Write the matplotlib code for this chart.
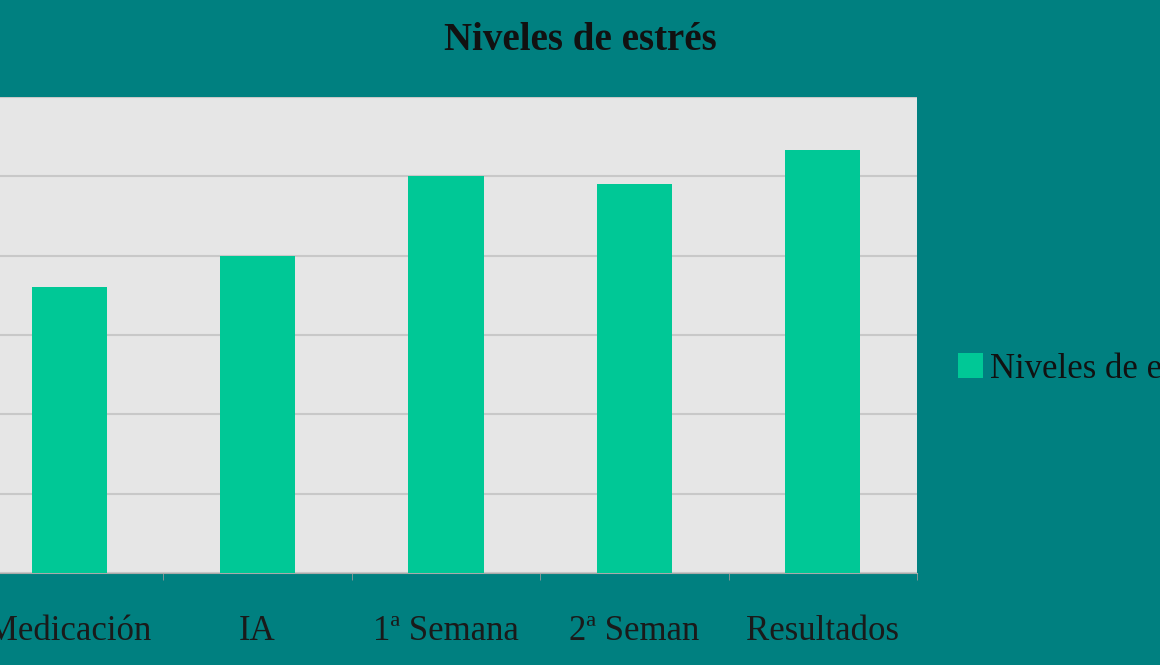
import matplotlib
matplotlib.use("Agg")
import matplotlib.pyplot as plt

categories = ["Medicación", "IA", "1ª Semana", "2ª Seman", "Resultados"]
values = [3.6, 4.0, 5.0, 4.9, 5.33]

plt.rcParams['font.family'] = ['Liberation Serif', 'DejaVu Serif']
fig = plt.figure(figsize=(11.6, 6.65), dpi=100)
fig.patch.set_facecolor('#008080')
ax = fig.add_axes([-25/1160, 1-573/665, 942/1160, (573-97)/665])
ax.set_facecolor('#e6e6e6')
x = list(range(len(categories)))
ax.bar(x, values, width=0.4, color='#00c896', zorder=3, label='Niveles de estrés')
ax.set_xlim(-0.5, len(categories)-0.5)
ax.set_ylim(0, 6)
ax.set_yticks([0, 1, 2, 3, 4, 5, 6])
ax.yaxis.grid(True, color='#c8c8c8', linewidth=1.5, zorder=0)
ax.tick_params(axis='y', length=0, labelleft=False)
ax.set_xticks(x)
ax.set_xticklabels(categories, fontsize=25, color='#1a1a1a')
ax.set_xticks([i+0.5 for i in x], minor=True)
ax.tick_params(axis='x', which='major', length=0, pad=30)
ax.tick_params(axis='x', which='minor', length=5, color='#999999')
for s in ['top', 'right', 'left']:
    ax.spines[s].set_visible(False)
ax.spines['bottom'].set_color('#aaaaaa')
fig.text(580/1160, 1-40/665, 'Niveles de estrés', ha='center', va='center',
         fontsize=28, fontweight='bold', color='#111111')
fig.legend(loc='center left', bbox_to_anchor=(927/1160, 1-369/665), frameon=False,
           fontsize=25, handlelength=0.7, handleheight=0.7, handletextpad=0.2,
           labelcolor='#111111')
fig.savefig('out.png', dpi=100, facecolor=fig.get_facecolor())
